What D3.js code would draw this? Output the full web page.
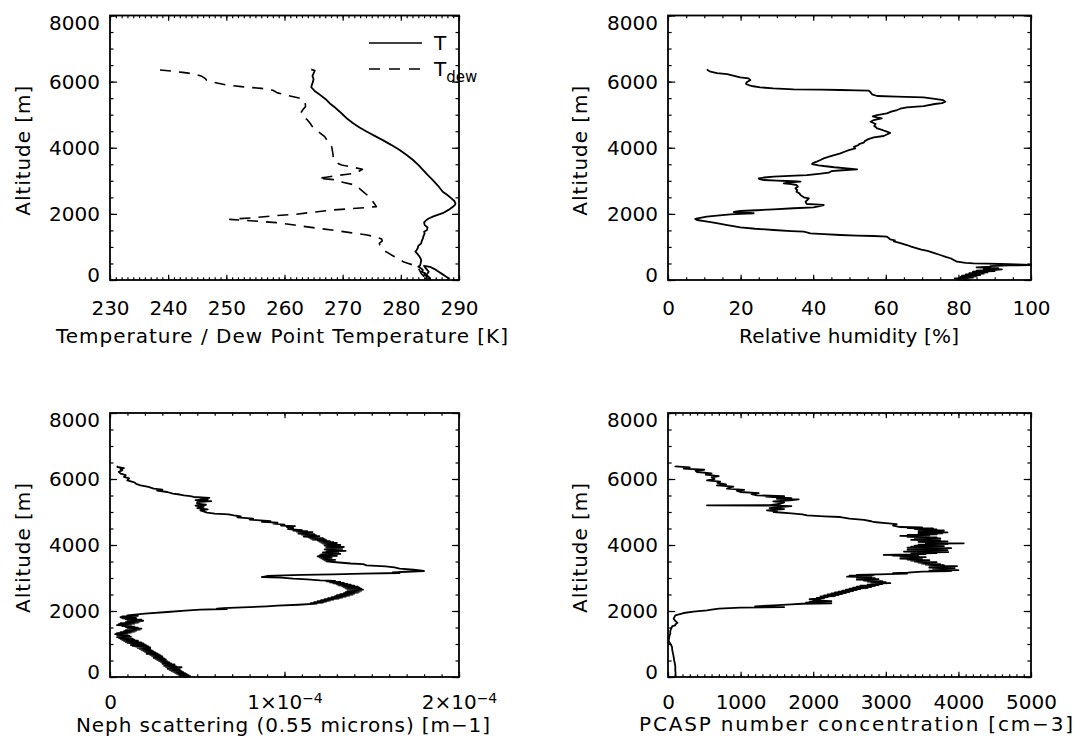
<!DOCTYPE html>
<html>
<head>
<meta charset="utf-8">
<script src="https://cdn.jsdelivr.net/npm/d3@7"></script>
<style>
  body { margin: 0; background: #fff; }
  svg text { font-family: "DejaVu Sans", sans-serif; fill: #000; }
</style>
</head>
<body>
<svg id="chart" width="1080" height="746"></svg>
<script>
// ---- data: [altitude m, value] ----
const altTicks = [0, 2000, 4000, 6000, 8000];

const tempT = [
  [6370,264.6],[6330,265.2],[6250,265.0],[6170,264.8],[6080,265.0],[6000,264.9],[5900,264.7],[5830,264.6],
  [5700,265.3],[5600,266.1],[5450,267.2],[5340,267.8],[5200,268.8],[5090,269.5],[4990,270.1],[4860,270.9],
  [4740,271.8],[4610,272.9],[4490,274.1],[4360,275.5],[4230,276.9],[4080,278.4],[3930,279.8],[3780,281.0],
  [3630,282.1],[3480,283.0],[3330,283.8],[3180,284.6],[3020,285.5],[2850,286.4],[2670,287.2],[2570,288.0],
  [2470,288.7],[2390,289.2],[2320,289.4],[2270,289.3],[2220,289.0],[2120,288.2],[2020,287.2],[1960,286.2],
  [1915,285.5],[1860,284.8],[1815,284.4],[1740,284.0],[1660,284.1],[1590,284.6],[1510,284.5],[1460,284.0],
  [1410,284.1],[1330,283.9],[1260,283.8],[1180,283.6],[1110,283.5],[1030,283.0],[960,282.9],[900,282.7],
  [860,282.5],[780,282.9],[710,283.2],[650,283.4],[600,283.5],[500,283.4],[440,283.3],[400,283.0],
  [350,283.5],[300,283.8],[250,283.6],[200,284.2],[150,284.0],[100,284.6],[50,284.3],[10,284.8],
  [80,284.9],[150,284.4],[250,284.8],[350,284.3],[430,284.0],[400,285.0],[330,285.8],[250,286.5],
  [170,287.2],[100,287.8],[40,288.4]
];

const tempDew = [
  [6351,238.6],[6320,240.5],[6280,242.5],[6230,244.5],[6160,245.8],[6090,246.4],[6040,246.6],[5990,247.5],
  [5900,250],[5840,253],[5797,256],[5740,258],[5660,258.8],[5590,260.3],[5505,262.5],[5450,263.3],
  [5380,263.5],[5300,263.6],[5240,263.6],[5160,263.2],[5080,262.9],[4990,262.9],[4940,263.2],[4850,263.9],
  [4740,264.4],[4637,264.8],[4500,265.7],[4335,266.9],[4180,267.5],[4032,268.1],[3850,268.3],[3680,268.4],
  [3560,268.8],[3479,269.8],[3420,271.5],[3348,273.4],[3290,272.8],[3226,272.1],[3190,270.5],[3156,268.8],
  [3110,267.2],[3075,265.8],[3050,267.5],[3025,269.2],[2990,269.6],[2954,270],[2874,272.1],[2720,273.2],
  [2571,274.2],[2440,274.9],[2319,275.4],[2218,275.8],[2168,272.4],[2118,268.4],[2047,264.7],[1987,262],
  [1946,258.3],[1885,254.8],[1845,251.4],[1835,250.6],[1785,254.8],[1734,258.6],[1663,261.7],[1583,264.9],
  [1512,268.1],[1432,271.3],[1361,274.2],[1300,275.8],[1240,276.7],[1180,276.8],[1110,276.3],[1058,276.4],
  [980,276.7],[907,277],[820,277.8],[726,278.7],[640,279.6],[554,280.4],[500,281.3],[454,282.1],
  [380,282.8],[302,283.2],[200,283.5],[100,284.0]
];

const relHum = [
  [6371,10.7],[6330,11.2],[6300,11.7],[6260,13.5],[6230,16.3],[6170,18.5],[6129,19.9],[6099,22.2],
  [6048,22.7],[5990,21.8],[5968,21.6],[5930,21.5],[5897,22.2],[5860,23.5],[5827,25.4],[5795,29],
  [5766,34.6],[5756,42],[5746,47.5],[5736,52],[5726,55.3],[5680,55.8],[5615,56.2],[5565,57.6],
  [5545,63],[5524,70.4],[5480,73.5],[5440,75.8],[5393,76.4],[5350,75.5],[5323,73.5],[5262,70.4],
  [5222,65.8],[5180,64],[5141,63.1],[5090,61.5],[5040,60.3],[4990,57.6],[4950,56.4],[4920,57.5],
  [4889,58.9],[4860,57.6],[4839,56.7],[4788,55.8],[4750,56.6],[4718,57.2],[4660,56.8],[4620,57.3],
  [4587,57.6],[4530,59.2],[4486,60.3],[4450,61.2],[4400,60.3],[4355,59.4],[4315,56.7],[4260,55.2],
  [4200,54.2],[4153,53.9],[4120,52.8],[4070,52.3],[4030,51.2],[3982,51.6],[3930,49.8],[3880,48.6],
  [3831,47.5],[3780,45.8],[3740,44.6],[3679,42.9],[3630,42],[3579,41],[3540,40],[3508,39.7],
  [3470,41.5],[3448,42.9],[3410,45.8],[3377,49.3],[3347,52.1],[3320,48],[3290,45],[3246,44.3],
  [3210,41.5],[3175,38.3],[3150,33.5],[3125,29.1],[3100,26.5],[3075,25],[3050,25.2],[3024,26.4],
  [3005,30],[2994,32.8],[2984,35.5],[2974,36.5],[2950,33.5],[2923,31.9],[2900,34],[2873,35.4],
  [2820,35.8],[2772,35.1],[2720,35.6],[2671,35.4],[2620,36.2],[2571,36.5],[2530,37],[2500,37.4],
  [2470,38.8],[2420,38.4],[2369,37.9],[2330,38],[2298,38.3],[2285,40.5],[2268,42.9],[2235,41.8],
  [2198,40.1],[2170,34.6],[2137,29.1],[2110,24.5],[2087,19.9],[2070,18.5],[2056,18.1],[2040,21],
  [2025,23.6],[2016,23.6],[2000,20],[1986,17.2],[1950,13.5],[1915,10.7],[1870,8.5],[1845,7.5],
  [1815,8],[1780,10],[1734,12.6],[1700,14.5],[1663,16.3],[1630,18],[1593,19.9],[1550,24],
  [1512,29.1],[1480,34],[1462,37.4],[1435,38.5],[1411,39.2],[1385,43],[1361,47.5],[1345,52],
  [1331,56.7],[1310,60.3],[1270,60.8],[1230,61.2],[1200,62.5],[1169,62.2],[1120,63.8],[1058,65.8],
  [1010,67],[958,68.6],[920,69.8],[880,71.5],[820,73.2],[756,75],[700,76.5],[650,78],
  [600,78.8],[554,79.6],[520,82],[504,84.2],[494,88],[484,91.6],[470,96],[460,99.8],
  [454,100],[440,94],[420,88.8],[403,88.8],[380,85],[360,91],[340,87],[320,92],
  [302,89.7],[285,85],[270,90],[250,84],[230,88],[210,83],[190,87],[170,82],
  [150,86],[130,81],[110,85],[90,80.5],[70,84],[50,79],[30,82.5],[10,80],[0,83]
];

// neph scattering, in units of 1e-5 m-1
const nephScat = [
  [6400,0.45],[6364,0.42],[6330,0.8],[6300,0.6],[6263,0.7],[6220,0.5],[6162,0.61],[6120,0.9],
  [6061,0.8],[6020,1.1],[5960,0.99],[5900,1.4],[5850,1.5],[5808,1.75],[5760,2.2],[5707,2.51],
  [5680,3.0],[5650,2.7],[5606,3.28],[5560,3.6],[5530,4.0],[5505,4.23],[5480,4.6],[5455,4.8],
  [5430,5.7],[5404,5.18],[5380,5.6],[5360,4.9],[5330,5.8],[5300,5.0],[5253,4.99],[5220,5.5],
  [5190,4.9],[5152,5.37],[5120,5.0],[5080,5.6],[5051,5.18],[5010,5.4],[4980,5.56],[4949,6.0],
  [4930,6.8],[4899,7.09],[4870,7.5],[4840,7.3],[4800,8.2],[4770,8.0],[4747,8.61],[4720,9.2],
  [4700,8.7],[4680,9.6],[4646,9.37],[4620,10.0],[4590,9.8],[4570,10.6],[4545,10.13],[4510,10.5],
  [4480,10.2],[4450,11.0],[4435,10.5],[4420,11.3],[4405,10.7],[4390,11.6],[4375,10.9],[4360,11.4],
  [4345,10.8],[4330,11.7],[4315,11.0],[4300,11.8],[4285,11.2],[4270,12.0],[4255,11.1],[4240,11.9],
  [4225,11.4],[4210,12.2],[4195,11.5],[4180,12.3],[4165,11.6],[4150,12.4],[4135,11.9],[4120,12.6],
  [4105,12.0],[4090,12.8],[4075,12.1],[4060,13.0],[4045,12.2],[4030,12.9],[4015,12.4],[4000,13.2],
  [3985,12.3],[3970,13.0],[3955,12.5],[3940,13.4],[3925,12.4],[3910,13.1],[3895,12.6],[3880,13.3],
  [3865,12.3],[3850,13.0],[3835,12.5],[3820,13.5],[3805,12.4],[3790,13.1],[3775,12.2],[3760,12.9],
  [3745,12.4],[3730,13.2],[3715,12.1],[3700,12.8],[3685,12.0],[3670,13.0],[3655,11.9],[3640,12.6],
  [3625,12.0],[3610,12.7],[3595,12.1],[3580,12.6],[3565,12.2],[3550,12.9],[3535,12.3],[3520,12.7],
  [3505,12.4],[3485,12.8],[3440,13.8],[3420,14.5],[3384,14.7],[3350,15.8],[3320,16.3],[3283,16.6],
  [3250,17.4],[3225,17.9],[3212,18.0],[3190,17.0],[3170,16.2],[3152,16.6],[3130,14.5],[3111,12.8],
  [3095,11.0],[3081,9.94],[3060,9.0],[3030,8.7],[3010,9.8],[2980,10.5],[2960,11.3],[2929,12.04],
  [2915,12.9],[2900,12.4],[2885,13.2],[2870,12.6],[2855,13.4],[2840,12.8],[2825,13.6],[2810,13.0],
  [2795,13.8],[2780,13.1],[2765,14.0],[2750,13.3],[2735,14.2],[2720,13.4],[2705,14.3],[2690,13.5],
  [2675,14.4],[2660,13.6],[2645,14.5],[2630,13.7],[2615,14.4],[2600,13.6],[2585,14.3],[2570,13.5],
  [2555,14.2],[2540,13.4],[2525,14.0],[2510,13.2],[2495,13.9],[2480,13.0],[2465,13.7],[2450,12.9],
  [2435,13.5],[2420,12.7],[2405,13.3],[2390,12.5],[2375,13.1],[2360,12.3],[2345,12.8],[2330,12.1],
  [2315,12.6],[2300,11.9],[2285,12.4],[2270,11.7],[2255,12.2],[2240,11.5],[2222,11.85],[2190,10.8],
  [2160,9.6],[2141,8.99],[2110,7.6],[2090,6.5],[2071,6.13],[2060,6.7],[2040,5.18],[2010,4.3],
  [1970,3.28],[1920,2.0],[1869,0.99],[1855,1.6],[1840,0.7],[1825,1.5],[1810,0.6],[1795,1.4],
  [1780,0.7],[1765,1.5],[1750,0.9],[1735,1.8],[1720,1.0],[1705,1.9],[1690,1.1],[1675,1.7],
  [1660,0.9],[1645,1.6],[1630,0.6],[1615,1.4],[1600,0.5],[1585,1.2],[1570,0.4],[1555,1.1],
  [1540,0.7],[1525,1.4],[1510,0.9],[1495,1.6],[1480,1.0],[1465,1.8],[1450,1.1],[1435,1.7],
  [1420,0.9],[1405,1.5],[1390,0.8],[1375,1.4],[1360,0.6],[1345,1.2],[1330,0.4],[1315,1.0],
  [1300,0.3],[1285,0.9],[1270,0.4],[1255,1.1],[1240,0.5],[1225,1.2],[1210,0.4],[1195,1.0],
  [1180,0.5],[1165,1.3],[1150,0.6],[1135,1.4],[1120,0.7],[1105,1.6],[1090,0.8],[1075,1.6],
  [1060,0.9],[1045,1.8],[1030,1.0],[1015,1.9],[1000,1.2],[985,2.0],[970,1.2],[955,2.1],
  [940,1.3],[925,2.2],[910,1.5],[895,2.3],[880,1.6],[865,2.3],[850,1.7],[835,2.3],
  [820,1.8],[805,2.4],[790,1.9],[775,2.5],[760,2.0],[745,2.6],[730,2.1],[715,2.7],
  [700,2.1],[685,2.8],[670,2.3],[655,2.9],[640,2.4],[625,3.0],[610,2.5],[595,3.0],
  [580,2.5],[565,3.1],[550,2.6],[535,3.2],[520,2.7],[505,3.2],[490,2.8],[475,3.3],
  [460,2.9],[445,3.4],[430,3.0],[415,3.5],[400,3.0],[385,3.7],[370,3.1],[355,3.7],
  [340,3.1],[325,3.8],[310,3.2],[295,4.1],[280,3.3],[265,3.9],[250,3.3],[235,4.0],
  [220,3.4],[205,4.0],[190,3.5],[175,4.1],[160,3.6],[145,4.2],[130,3.7],[115,4.3],
  [100,3.8],[85,4.4],[70,3.9],[55,4.5],[40,4.0],[25,4.6],[10,4.2],[0,4.4]
];

const pcaspConc = [
  [6400,100],[6384,101],[6350,300],[6313,216],[6280,500],[6250,380],[6212,400],[6170,600],
  [6130,520],[6090,700],[6050,600],[6000,640],[5960,537],[5920,720],[5880,680],[5840,800],
  [5808,675],[5770,900],[5740,850],[5707,813],[5670,1050],[5640,950],[5606,996],[5570,1250],
  [5540,1150],[5505,1226],[5480,1600],[5470,1350],[5455,1455],[5420,1700],[5400,1500],[5380,1800],
  [5354,1685],[5320,1450],[5290,1600],[5250,1550],[5210,1400],[5202,537],[5195,1450],[5180,1700],
  [5152,1547],[5120,1400],[5090,1600],[5051,1364],[5020,1500],[5000,1455],[4960,1700],[4930,1850],
  [4899,1915],[4870,2150],[4848,2374],[4800,2500],[4760,2700],[4720,2800],[4697,2833],[4660,3000],
  [4630,3150],[4590,3100],[4545,3200],[4530,3500],[4515,3300],[4500,3650],[4485,3400],[4470,3700],
  [4455,3450],[4440,3800],[4425,3500],[4410,3650],[4394,3450],[4380,3850],[4365,3550],[4350,3780],
  [4335,3450],[4320,3700],[4305,3300],[4290,3600],[4275,3200],[4260,3550],[4245,3300],[4230,3700],
  [4215,3400],[4200,3750],[4185,3450],[4170,3650],[4155,3350],[4140,3750],[4125,3500],[4110,3850],
  [4095,3450],[4080,3700],[4065,3550],[4050,4073],[4040,3600],[4025,3850],[4010,3450],[3995,3700],
  [3980,3400],[3965,3800],[3950,3350],[3935,3650],[3920,3300],[3905,3900],[3890,3450],[3875,3700],
  [3860,3300],[3845,3850],[3830,3400],[3815,3600],[3800,3250],[3785,3860],[3770,3500],[3755,3700],
  [3740,3350],[3725,3550],[3700,2971],[3690,3300],[3675,3100],[3660,3450],[3645,3200],[3630,3550],
  [3615,3250],[3600,3450],[3585,3200],[3570,3500],[3555,3300],[3540,3600],[3525,3350],[3510,3550],
  [3495,3400],[3480,3700],[3465,3450],[3450,3650],[3435,3500],[3420,3750],[3405,3550],[3390,3800],
  [3375,3600],[3360,3981],[3345,3650],[3330,3900],[3315,3600],[3300,3950],[3285,3650],[3270,3935],
  [3255,3700],[3240,4000],[3225,3600],[3210,3900],[3195,3500],[3180,3400],[3160,3300],[3145,3100],
  [3131,3292],[3110,2900],[3095,2600],[3081,2833],[3070,2500],[3055,2750],[3040,2466],[3025,2800],
  [3010,2600],[2995,2850],[2980,2650],[2965,2900],[2950,2600],[2935,2850],[2920,2700],[2905,2950],
  [2890,2750],[2875,3000],[2860,2800],[2845,3062],[2830,2850],[2815,2950],[2800,2750],[2785,2900],
  [2770,2650],[2755,2850],[2740,2600],[2725,2800],[2710,2550],[2695,2750],[2680,2500],[2665,2650],
  [2650,2450],[2635,2600],[2620,2400],[2605,2550],[2590,2350],[2575,2500],[2560,2300],[2545,2450],
  [2530,2250],[2515,2400],[2500,2200],[2485,2350],[2470,2150],[2455,2300],[2440,2100],[2420,2200],
  [2400,2050],[2380,2150],[2360,1950],[2340,2100],[2323,2000],[2300,2250],[2285,1950],[2270,2100],
  [2250,1900],[2235,2250],[2220,1850],[2200,1700],[2172,1455],[2140,1200],[2120,1600],[2101,996],
  [2070,700],[2040,600],[2020,537],[1980,350],[1939,216],[1900,150],[1869,101],[1820,90],
  [1768,78],[1700,100],[1640,130],[1590,101],[1566,101],[1540,60],[1515,55],[1450,40],
  [1380,30],[1313,32],[1250,20],[1180,15],[1111,9],[1050,20],[980,40],[909,55],
  [800,60],[700,70],[606,78],[500,85],[400,95],[303,101],[200,100],[100,105],[50,101],[0,100]
];

const svg = d3.select("#chart");

// ---- panels ----
const panels = [
  { x0: 110, x1: 459, y0: 15.5, y1: 280, xDomain: [230, 290], xMajor: d3.range(230, 291, 10), xMinor: 1,
    xTitle: "Temperature / Dew Point Temperature [K]", titleX: 282, titleY: 343, titleLen: 452,
    tickPad: 21, yTitleX: 30,
    series: [{ data: tempT, dash: null }, { data: tempDew, dash: "11,8" }] },
  { x0: 668, x1: 1031, y0: 15.5, y1: 280, xDomain: [0, 100], xMajor: d3.range(0, 101, 20), xMinor: 5,
    xTitle: "Relative humidity [%]", titleX: 849, titleY: 343, titleLen: 220,
    tickPad: 21, yTitleX: 587,
    series: [{ data: relHum, dash: null }] },
  { x0: 110, x1: 459, y0: 413, y1: 677, xDomain: [0, 20], xMajor: [0, 10, 20], xMinor: 1, sci: true,
    xTitle: "Neph scattering (0.55 microns) [m\u22121]", titleX: 283, titleY: 732, titleLen: 414,
    tickPad: 18, yTitleX: 30,
    series: [{ data: nephScat, dash: null }] },
  { x0: 668, x1: 1031, y0: 413, y1: 677, xDomain: [0, 5000], xMajor: d3.range(0, 5001, 1000), xMinor: 100,
    xTitle: "PCASP number concentration [cm\u22123]", titleX: 856, titleY: 731, titleLen: 434,
    tickPad: 18, yTitleX: 587,
    series: [{ data: pcaspConc, dash: null }] }
];

function steps(d0, d1, step) {
  const n = Math.round((d1 - d0) / step);
  return d3.range(0, n + 1).map(i => d0 + i * step);
}

function styleAxis(sel) {
  sel.select(".domain").remove();
  sel.selectAll("line").attr("stroke", "#000").attr("stroke-width", 1.2);
  sel.attr("font-size", null).attr("font-family", null);
}

panels.forEach(p => {
  const g = svg.append("g");
  const x = d3.scaleLinear().domain(p.xDomain).range([p.x0, p.x1]);
  const y = d3.scaleLinear().domain([0, 8000]).range([p.y1, p.y0]);
  const xLen = (p.y1 - p.y0) * 0.02;
  const yLen = (p.x1 - p.x0) * 0.02;
  const xMinorVals = steps(p.xDomain[0], p.xDomain[1], p.xMinor);
  const yMinorVals = steps(0, 8000, 500);

  // minor ticks, all four sides
  g.append("g").attr("transform", `translate(0,${p.y1})`)
    .call(d3.axisBottom(x).tickValues(xMinorVals).tickSize(-xLen / 2).tickSizeOuter(0).tickFormat(""))
    .call(styleAxis);
  g.append("g").attr("transform", `translate(0,${p.y0})`)
    .call(d3.axisTop(x).tickValues(xMinorVals).tickSize(-xLen / 2).tickSizeOuter(0).tickFormat(""))
    .call(styleAxis);
  g.append("g").attr("transform", `translate(${p.x0},0)`)
    .call(d3.axisLeft(y).tickValues(yMinorVals).tickSize(-yLen / 2).tickSizeOuter(0).tickFormat(""))
    .call(styleAxis);
  g.append("g").attr("transform", `translate(${p.x1},0)`)
    .call(d3.axisRight(y).tickValues(yMinorVals).tickSize(-yLen / 2).tickSizeOuter(0).tickFormat(""))
    .call(styleAxis);

  // major ticks + labels
  const xb = g.append("g").attr("transform", `translate(0,${p.y1})`)
    .call(d3.axisBottom(x).tickValues(p.xMajor).tickSize(-xLen).tickSizeOuter(0).tickPadding(p.tickPad)
      .tickFormat(d => String(d)))
    .call(styleAxis);
  xb.selectAll("text").attr("font-size", 20);
  if (p.sci) {
    xb.selectAll("text").each(function(d) {
      if (d === 0) return;
      const t = d3.select(this).text("");
      t.append("tspan").text(`${d / 10}\u00d710`);
      t.append("tspan").attr("font-size", 14).attr("dy", "-0.45em").text("\u22124");
    });
  }
  g.append("g").attr("transform", `translate(0,${p.y0})`)
    .call(d3.axisTop(x).tickValues(p.xMajor).tickSize(-xLen).tickSizeOuter(0).tickFormat(""))
    .call(styleAxis);
  const yl = g.append("g").attr("transform", `translate(${p.x0},0)`)
    .call(d3.axisLeft(y).tickValues(altTicks).tickSize(-yLen).tickSizeOuter(0).tickPadding(10)
      .tickFormat(d3.format("d")))
    .call(styleAxis);
  yl.selectAll("text").attr("font-size", 20)
    .attr("y", d => d === 8000 ? 7.5 : d === 0 ? -5 : 0);
  g.append("g").attr("transform", `translate(${p.x1},0)`)
    .call(d3.axisRight(y).tickValues(altTicks).tickSize(-yLen).tickSizeOuter(0).tickFormat(""))
    .call(styleAxis);

  // data
  const line = d3.line().x(d => x(d[1])).y(d => y(d[0]));
  p.series.forEach(s => {
    g.append("path").datum(s.data)
      .attr("d", line)
      .attr("fill", "none")
      .attr("stroke", "#000")
      .attr("stroke-width", s.dash ? 1.6 : 1.8)
      .attr("stroke-linejoin", "round")
      .attr("stroke-dasharray", s.dash);
  });

  // frame
  g.append("rect")
    .attr("x", p.x0).attr("y", p.y0)
    .attr("width", p.x1 - p.x0).attr("height", p.y1 - p.y0)
    .attr("fill", "none").attr("stroke", "#000").attr("stroke-width", 1.8);

  // titles
  g.append("text")
    .attr("x", p.titleX).attr("y", p.titleY)
    .attr("text-anchor", "middle").attr("font-size", 20)
    .attr("textLength", p.titleLen).attr("lengthAdjust", "spacing")
    .text(p.xTitle);
  g.append("text")
    .attr("transform", `translate(${p.yTitleX},${(p.y0 + p.y1) / 2 + 3}) rotate(-90)`)
    .attr("text-anchor", "middle").attr("font-size", 20)
    .attr("textLength", 130).attr("lengthAdjust", "spacing")
    .text("Altitude [m]");
});

// legend in first panel
const leg = svg.append("g");
const legendItems = [
  { label: "T", sub: null, dash: null, y: 43 },
  { label: "T", sub: "dew", dash: "11,9", y: 69 }
];
legendItems.forEach(it => {
  leg.append("line")
    .attr("x1", 369).attr("x2", 422).attr("y1", it.y).attr("y2", it.y)
    .attr("stroke", "#000").attr("stroke-width", 1.5)
    .attr("stroke-dasharray", it.dash);
  const t = leg.append("text").attr("x", 434).attr("y", it.y + 7).attr("font-size", 20);
  t.append("tspan").text(it.label);
  if (it.sub) t.append("tspan").attr("font-size", 15).attr("dy", 6).text(it.sub);
});
</script>
</body>
</html>
